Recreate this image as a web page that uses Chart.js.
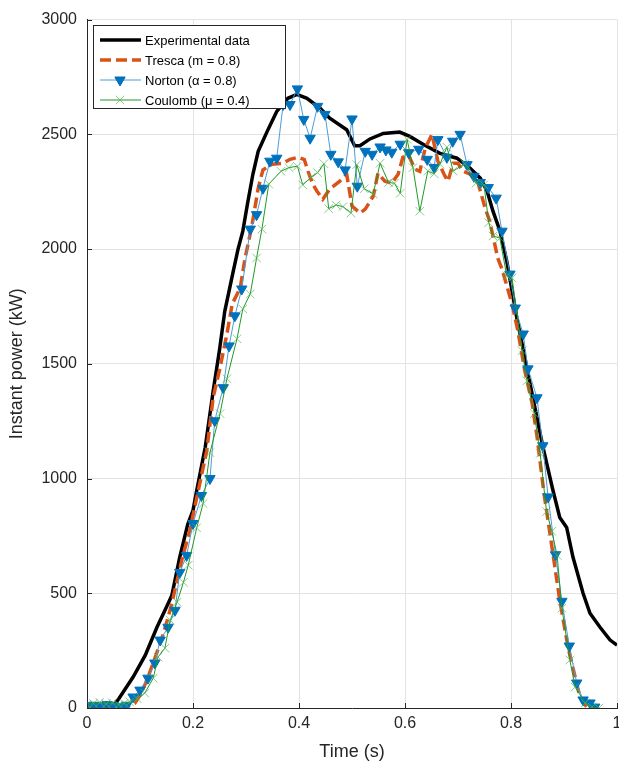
<!DOCTYPE html>
<html>
<head>
<meta charset="utf-8">
<script src="https://cdn.jsdelivr.net/npm/chart.js@4"></script>
<style>
  html, body { margin: 0; padding: 0; background: #fff; }
  canvas { display: block; }
</style>
</head>
<body>
<canvas id="powerchart" width="619" height="769"></canvas>
<script>
// experimental curve
var expTime = [0, 0.02, 0.04, 0.05, 0.06, 0.087, 0.11, 0.132, 0.15, 0.16, 0.175, 0.19, 0.2, 0.207, 0.223, 0.238, 0.25, 0.26, 0.276, 0.285, 0.294, 0.303, 0.313, 0.323, 0.34, 0.358, 0.379, 0.396, 0.415, 0.44, 0.458, 0.49, 0.505, 0.515, 0.534, 0.559, 0.59, 0.609, 0.634, 0.666, 0.698, 0.723, 0.742, 0.755, 0.766, 0.779, 0.792, 0.811, 0.836, 0.86, 0.879, 0.892, 0.905, 0.917, 0.936, 0.949, 0.968, 0.987, 1.0];
var expPower = [5, 5, 5, 10, 40, 135, 230, 352, 440, 490, 657, 800, 861, 948, 1135, 1380, 1560, 1730, 1904, 2000, 2078, 2200, 2326, 2426, 2513, 2600, 2657, 2674, 2657, 2613, 2570, 2520, 2450, 2450, 2480, 2504, 2510, 2491, 2457, 2417, 2396, 2352, 2309, 2252, 2165, 2080, 1948, 1700, 1413, 1140, 950, 830, 787, 657, 500, 413, 352, 296, 274];

// Tresca (m = 0.8)
var trescaTime = [0, 0.02, 0.04, 0.06, 0.08, 0.09, 0.1, 0.11, 0.12, 0.13, 0.14, 0.15, 0.16, 0.17, 0.18, 0.194, 0.21, 0.226, 0.238, 0.251, 0.264, 0.274, 0.289, 0.298, 0.311, 0.323, 0.332, 0.349, 0.37, 0.383, 0.398, 0.41, 0.417, 0.426, 0.434, 0.445, 0.458, 0.477, 0.49, 0.5, 0.515, 0.525, 0.54, 0.549, 0.562, 0.575, 0.587, 0.596, 0.606, 0.619, 0.628, 0.638, 0.651, 0.662, 0.675, 0.681, 0.691, 0.7, 0.709, 0.723, 0.738, 0.751, 0.76, 0.775, 0.783, 0.802, 0.813, 0.826, 0.84, 0.849, 0.862, 0.879, 0.892, 0.908, 0.93, 0.943, 0.95];
var trescaPower = [5, 8, 5, 8, 10, 20, 55, 105, 165, 230, 295, 370, 455, 555, 655, 774, 948, 1122, 1352, 1483, 1630, 1761, 1830, 1957, 2100, 2265, 2345, 2370, 2374, 2391, 2400, 2390, 2339, 2283, 2252, 2217, 2261, 2296, 2326, 2187, 2157, 2174, 2230, 2330, 2296, 2287, 2326, 2400, 2413, 2348, 2339, 2439, 2500, 2383, 2320, 2296, 2374, 2374, 2340, 2326, 2287, 2180, 2120, 1961, 1913, 1761, 1643, 1470, 1326, 1185, 940, 674, 470, 261, 48, 4, 0];

// Norton (alpha = 0.8)
var nortonTime = [0, 0.013, 0.025, 0.038, 0.05, 0.063, 0.075, 0.087, 0.1, 0.115, 0.128, 0.138, 0.153, 0.166, 0.175, 0.188, 0.2, 0.216, 0.232, 0.241, 0.257, 0.268, 0.279, 0.292, 0.308, 0.32, 0.332, 0.345, 0.358, 0.37, 0.383, 0.397, 0.409, 0.421, 0.435, 0.449, 0.46, 0.474, 0.487, 0.5, 0.51, 0.525, 0.538, 0.553, 0.564, 0.575, 0.591, 0.607, 0.626, 0.642, 0.655, 0.662, 0.679, 0.69, 0.704, 0.717, 0.73, 0.742, 0.757, 0.772, 0.783, 0.798, 0.808, 0.823, 0.832, 0.849, 0.86, 0.87, 0.884, 0.896, 0.91, 0.924, 0.936, 0.949, 0.958];
var nortonPower = [10, 12, 8, 15, 10, 5, 12, 48, 78, 130, 196, 296, 352, 426, 591, 665, 804, 926, 1000, 1252, 1396, 1578, 1709, 1826, 2087, 2150, 2265, 2383, 2396, 2630, 2630, 2698, 2565, 2483, 2622, 2587, 2413, 2380, 2345, 2567, 2274, 2426, 2413, 2445, 2432, 2422, 2457, 2420, 2435, 2391, 2356, 2477, 2400, 2470, 2500, 2368, 2317, 2290, 2268, 2222, 2078, 1891, 1743, 1630, 1478, 1352, 1143, 920, 668, 465, 270, 109, 35, 22, 4];

// Coulomb (mu = 0.4)
var coulombTime = [0, 0.012, 0.024, 0.036, 0.048, 0.06, 0.07, 0.081, 0.095, 0.109, 0.125, 0.134, 0.147, 0.157, 0.17, 0.182, 0.191, 0.207, 0.219, 0.232, 0.251, 0.264, 0.283, 0.294, 0.308, 0.32, 0.33, 0.343, 0.366, 0.381, 0.397, 0.407, 0.423, 0.435, 0.447, 0.456, 0.47, 0.483, 0.498, 0.509, 0.523, 0.54, 0.553, 0.569, 0.58, 0.591, 0.604, 0.615, 0.628, 0.643, 0.655, 0.666, 0.679, 0.691, 0.713, 0.734, 0.749, 0.758, 0.766, 0.779, 0.792, 0.802, 0.821, 0.83, 0.844, 0.855, 0.867, 0.877, 0.887, 0.896, 0.911, 0.921, 0.94, 0.953, 0.966];
var coulombPower = [15, 20, 25, 18, 22, 15, 20, 26, 40, 65, 130, 222, 261, 383, 461, 548, 622, 785, 891, 1113, 1283, 1435, 1609, 1739, 1804, 1961, 2087, 2283, 2339, 2355, 2361, 2280, 2313, 2333, 2372, 2176, 2192, 2185, 2157, 2368, 2263, 2240, 2374, 2290, 2287, 2243, 2478, 2355, 2165, 2340, 2328, 2370, 2444, 2340, 2372, 2287, 2280, 2115, 2057, 2048, 1883, 1874, 1557, 1426, 1283, 1109, 856, 770, 665, 435, 209, 91, 22, 4, 0];

var yTicks = [0, 500, 1000, 1500, 2000, 2500, 3000];
var xTicks = [0, 0.2, 0.4, 0.6, 0.8, 1];

function pts(xs, ys) {
    return xs.map(function (x, i) { return { x: x, y: ys[i] }; });
}

var FONT = "'Liberation Sans', Arial, Helvetica, sans-serif";
var TXT = '#262626';
var PLOT_RIGHT = 617;

// the last x label made chart.js leave extra room on the right; push the axes out again
var fixRight = {
    id: 'fixRight',
    afterLayout: function (chart) {
        var a = chart.chartArea;
        a.right = PLOT_RIGHT;
        a.width = a.right - a.left;
        var xs = chart.scales.x;
        xs.right = PLOT_RIGHT;
        xs.width = xs.right - xs.left;
        xs.configure();
        xs._labelItems = null;
        xs._gridLineItems = null;
        chart.scales.y._gridLineItems = null;
    }
};

// small inward tick marks, matlab style
var innerTicks = {
    id: 'innerTicks',
    afterDatasetsDraw: function (chart) {
        var ctx = chart.ctx, a = chart.chartArea;
        var xs = chart.scales.x, ys = chart.scales.y;
        ctx.save();
        ctx.strokeStyle = '#262626';
        ctx.lineWidth = 1;
        ctx.beginPath();
        xTicks.forEach(function (v) {
            var px = Math.round(xs.getPixelForValue(v)) + 0.5;
            ctx.moveTo(px, a.bottom);
            ctx.lineTo(px, a.bottom - 5);
        });
        yTicks.forEach(function (v) {
            var py = Math.round(ys.getPixelForValue(v)) + 0.5;
            ctx.moveTo(a.left, py);
            ctx.lineTo(a.left + 5, py);
        });
        ctx.stroke();
        ctx.restore();
    }
};

// legend drawn inside the axes, upper left like the original
var boxLegend = {
    id: 'boxLegend',
    afterDraw: function (chart) {
        var ctx = chart.ctx;
        var x0 = 93, y0 = 25, w = 192, h = 83;
        ctx.save();
        ctx.fillStyle = '#fff';
        ctx.fillRect(x0, y0, w, h);
        ctx.strokeStyle = '#262626';
        ctx.lineWidth = 1;
        ctx.strokeRect(x0 + 0.5, y0 + 0.5, w, h);
        ctx.font = '13px ' + FONT;
        ctx.textBaseline = 'middle';
        chart.data.datasets.forEach(function (ds, i) {
            var cy = y0 + 15 + i * 20;
            ctx.strokeStyle = ds.borderColor;
            ctx.lineWidth = ds.borderWidth;
            ctx.setLineDash(ds.borderDash || []);
            ctx.beginPath();
            ctx.moveTo(x0 + 7, cy);
            ctx.lineTo(x0 + 48, cy);
            ctx.stroke();
            ctx.setLineDash([]);
            if (ds.pointRadius > 0) {
                ctx.fillStyle = ds.pointBackgroundColor;
                ctx.strokeStyle = ds.pointBorderColor;
                ctx.lineWidth = ds.pointBorderWidth;
                Chart.helpers.drawPoint(ctx, {
                    pointStyle: ds.pointStyle,
                    rotation: ds.pointRotation || 0,
                    radius: ds.pointRadius,
                    borderWidth: ds.pointBorderWidth
                }, x0 + 27, cy);
            }
            ctx.fillStyle = '#000';
            ctx.fillText(ds.label, x0 + 52, cy + 1);
        });
        ctx.restore();
    }
};

var powerchart = document.getElementById('powerchart').getContext('2d');

var chart = new Chart(powerchart, {
    type: 'line',
    data: {
        datasets: [
            {
                label: 'Experimental data',
                data: pts(expTime, expPower),
                borderColor: '#000000',
                borderWidth: 3.5,
                pointRadius: 0,
                tension: 0,
                order: 4
            },
            {
                label: 'Tresca (m = 0.8)',
                data: pts(trescaTime, trescaPower),
                borderColor: '#D95319',
                borderWidth: 3.5,
                borderDash: [11, 5],
                pointRadius: 0,
                tension: 0,
                order: 3
            },
            {
                label: 'Norton (\u03b1 = 0.8)',
                data: pts(nortonTime, nortonPower),
                borderColor: '#4d9bd6',
                borderWidth: 1,
                pointStyle: 'triangle',
                pointRotation: 180,
                pointRadius: 6,
                pointBorderWidth: 1,
                pointBackgroundColor: '#0072BD',
                pointBorderColor: '#0072BD',
                tension: 0,
                order: 2
            },
            {
                label: 'Coulomb (\u03bc = 0.4)',
                data: pts(coulombTime, coulombPower),
                borderColor: '#1f9a2a',
                borderWidth: 1,
                pointStyle: 'crossRot',
                pointRadius: 6,
                pointBorderWidth: 1,
                pointBackgroundColor: 'rgba(90,180,90,0.7)',
                pointBorderColor: 'rgba(90,180,90,0.7)',
                tension: 0,
                order: 1
            }
        ]
    },
    options: {
        responsive: false,
        animation: false,
        layout: { padding: { top: 18, right: 2, left: 0, bottom: 0 } },
        plugins: {
            legend: { display: false },
            tooltip: { enabled: false }
        },
        scales: {
            x: {
                type: 'linear',
                min: 0,
                max: 1,
                afterBuildTicks: function (s) { s.ticks = xTicks.map(function (v) { return { value: v }; }); },
                afterFit: function (s) { s.height = 61; },
                ticks: {
                    color: TXT, font: { family: FONT, size: 16 }, padding: 6, maxRotation: 0,
                    callback: function (v) { return String(v); }
                },
                grid: { color: '#e3e3e3', tickLength: 0 },
                border: { color: '#262626', width: 1 },
                title: { display: true, text: 'Time (s)', color: TXT, font: { family: FONT, size: 18 }, padding: { top: 0, bottom: 6 } }
            },
            y: {
                min: 0,
                max: 3000,
                afterBuildTicks: function (s) { s.ticks = yTicks.map(function (v) { return { value: v }; }); },
                afterFit: function (s) { s.width = 87; },
                ticks: {
                    color: TXT, font: { family: FONT, size: 16 }, padding: 10,
                    callback: function (v) { return String(v); }
                },
                grid: { color: '#e3e3e3', tickLength: 0 },
                border: { color: '#262626', width: 1 },
                title: { display: true, text: 'Instant power (kW)', color: TXT, font: { family: FONT, size: 18 }, padding: { top: 6, bottom: 0 } }
            }
        }
    },
    plugins: [fixRight, innerTicks, boxLegend]
});
</script>
</body>
</html>
